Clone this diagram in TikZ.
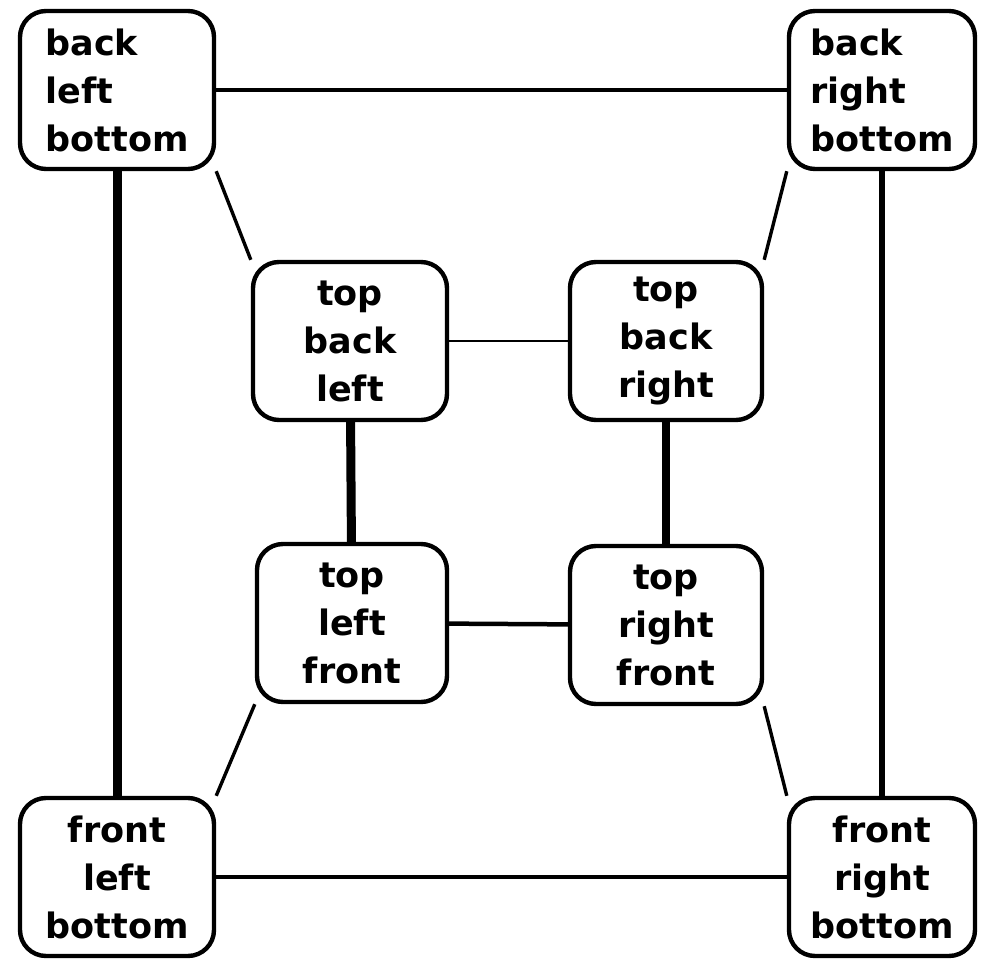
\documentclass[tikz,border=0pt]{standalone}
\usepackage{fontspec}
\setmainfont{DejaVu Sans}
\pgfdeclarelayer{background}
\pgfsetlayers{background,main}
\begin{document}
\begin{tikzpicture}[x=1pt,y=-1pt,
  box/.style={draw, line width=4.4pt, rounded corners=26pt, fill=white,
    minimum width=#1, minimum height=158pt, inner sep=0pt,
    font=\bfseries\fontsize{35}{48}\selectfont},
  box/.default=194pt,
  lk/.style={line width=#1, line cap=butt},
  diag/.style={line width=3.4pt}]
\useasboundingbox (0,0) rectangle (994,961);
\node[box, align=left] (b1) at (117,90) {back\\left\\bottom};
\node[box=186pt, align=left] (b2) at (882,90) {back\\right\\bottom};
\node[box, align=center] (b3) at (350,341) {top\\back\\left};
\node[box=192pt, align=center] (b4) at (666,341) {top\\back\\right};
\node[box=190pt, align=center] (b5) at (352,623) {top\\left\\front};
\node[box=192pt, align=center] (b6) at (666,625) {top\\right\\front};
\node[box, align=center] (b7) at (117,877) {front\\left\\bottom};
\node[box=186pt, align=center] (b8) at (882,877) {front\\right\\bottom};
\begin{pgfonlayer}{background}
\fill[white] (0,0) rectangle (994,961);
\draw[lk=4.5pt] (b1) -- (b2);
\draw[lk=9pt] (b1) -- (b7);
\draw[lk=6.5pt] (b2) -- (b8);
\draw[lk=4.5pt] (b7) -- (b8);
\draw[lk=2.4pt] (b3) -- (b4);
\draw[lk=9pt] (b3) -- (b5);
\draw[lk=8pt] (b4) -- (b6);
\draw[lk=4.5pt] (b5) -- (b6);
\draw[diag] (b1.south east) -- (b3.north west);
\draw[diag] (b2.south west) -- (b4.north east);
\draw[diag] (b5.south west) -- (b7.north east);
\draw[diag] (b6.south east) -- (b8.north west);
\end{pgfonlayer}
\end{tikzpicture}
\end{document}
